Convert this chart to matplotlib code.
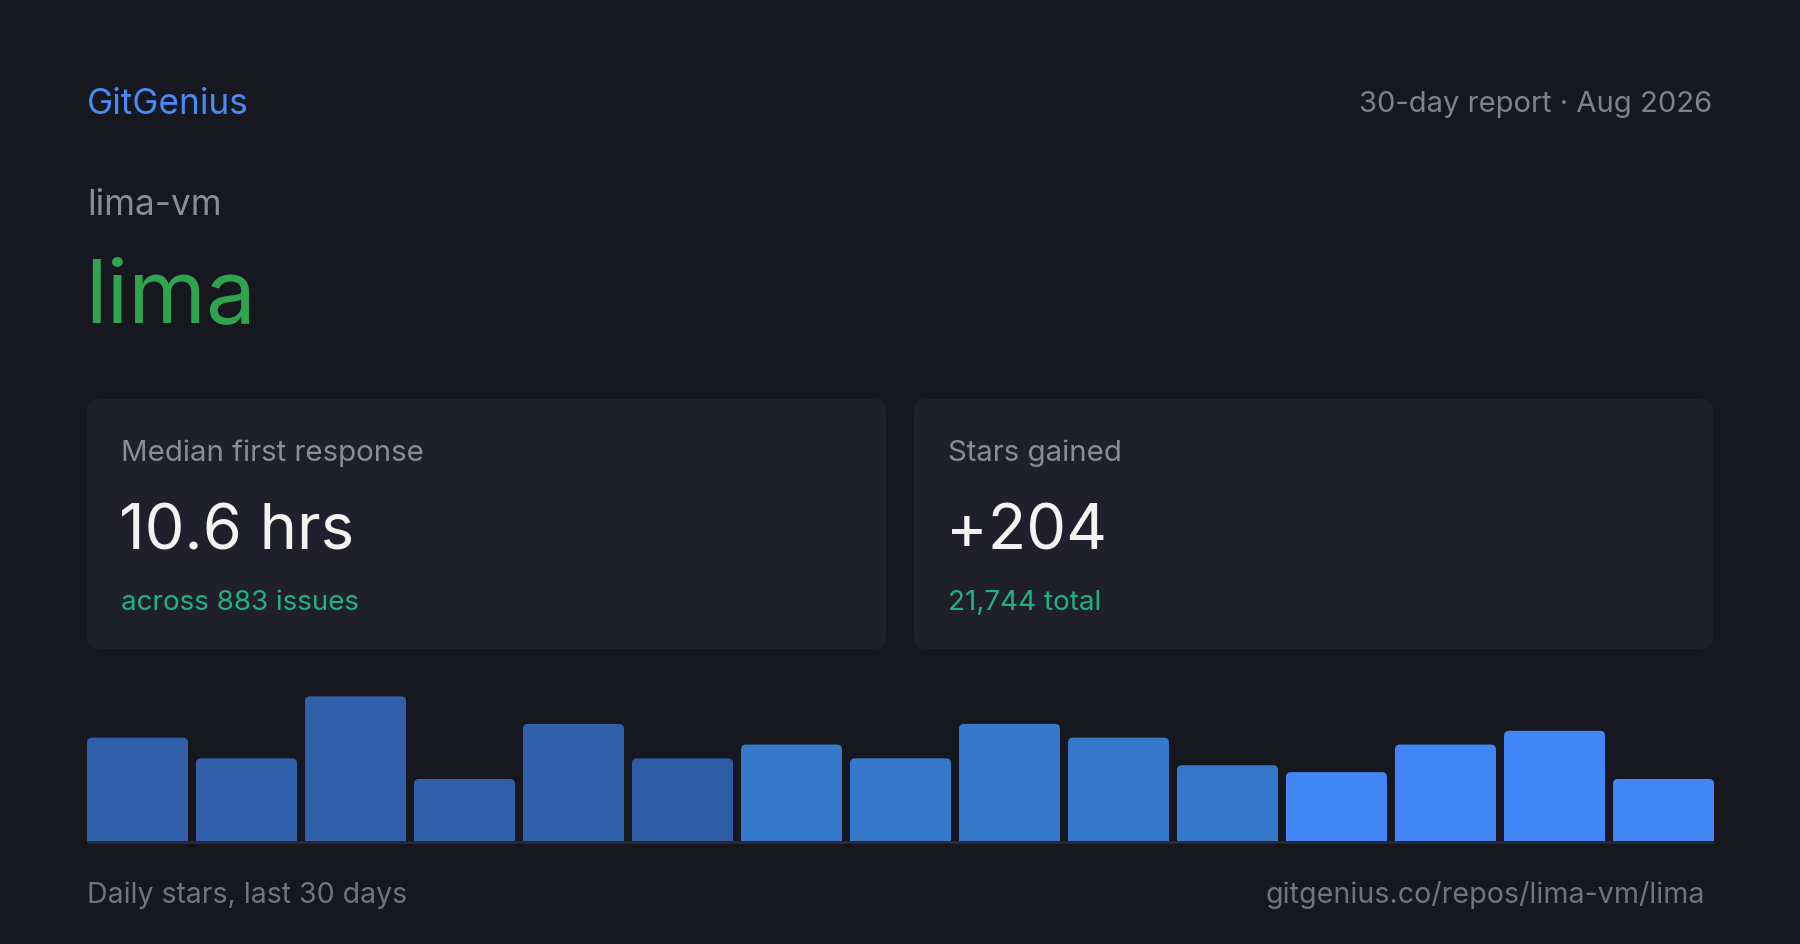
import matplotlib
matplotlib.use("Agg")
import matplotlib.pyplot as plt
from matplotlib.patches import FancyBboxPatch

plt.rcParams['font.family'] = ['Inter', 'DejaVu Sans']

# data
brand = "GitGenius"
report_label = "30-day report · Aug 2026"
owner = "lima-vm"
repo = "lima"
card_labels = ["Median first response", "Stars gained"]
card_values = ["10.6 hrs", "+204"]
card_subs = ["across 883 issues", "21,744 total"]
daily_stars = [15, 12, 21, 9, 17, 12, 14, 12, 17, 15, 11, 10, 14, 16, 9]
footer_left = "Daily stars, last 30 days"
footer_right = "gitgenius.co/repos/lima-vm/lima"

# styles
BG = '#16171f'
CARD = '#1f202b'
GRAY = '#8b8c96'
WHITE = '#f3f3ef'
SUBGREEN = '#1fb380'
bar_colors = ['#2f60a9'] * 5 + ['#2d5ca5'] + ['#3678c9'] * 5 + ['#4285f4'] * 4

W, H = 1800, 945
fig = plt.figure(figsize=(W / 100, H / 100), dpi=100, facecolor=BG)

# full-figure axes in pixel coordinates for the layout
bg = fig.add_axes([0, 0, 1, 1])
bg.set_xlim(0, W)
bg.set_ylim(H, 0)
bg.axis('off')
bg.set_facecolor(BG)

bg.text(87, 114, brand, color='#4a8af4', fontsize=25.3, va='baseline', ha='left')
bg.text(1712, 112, report_label, color='#7f818c', fontsize=21, va='baseline', ha='right')
bg.text(87, 215, owner, color=GRAY, fontsize=25.3, va='baseline', ha='left')
bg.text(85, 322, repo, color='#2ea44f', fontsize=64, va='baseline', ha='left')

# stat cards
card_x = [87, 914]
for i in range(2):
    x0 = card_x[i]
    bg.add_patch(FancyBboxPatch((x0, 400), 799, 250,
                                boxstyle="round,pad=0,rounding_size=13",
                                facecolor=CARD, edgecolor='none'))
    tx = x0 + 34
    bg.text(tx, 461, card_labels[i], color=GRAY, fontsize=21.2, va='baseline')
    bg.text(tx - 2, 550, card_values[i], color=WHITE, fontsize=45.5, va='baseline')
    bg.text(tx, 610, card_subs[i], color=SUBGREEN, fontsize=20, va='baseline')

# footer
bg.text(87, 903, footer_left, color='#71737f', fontsize=20.5, va='baseline', ha='left')
bg.text(1705, 903, footer_right, color='#71737f', fontsize=20.6, va='baseline', ha='right')

# bar chart
n = len(daily_stars)
pitch_px, bar_px = 109, 101
ax_w = (n - 1) * pitch_px + bar_px
ymax = max(daily_stars)
px_per_star = 6.89
ax_h = ymax * px_per_star
ax = fig.add_axes([87 / W, (H - 842) / H, ax_w / W, ax_h / H])
ax.set_facecolor('none')
bw = bar_px / pitch_px
ax.set_xlim(-bw / 2, n - 1 + bw / 2)
ax.set_ylim(0, ymax)
ax.axis('off')

rx = 5 / pitch_px
ry = 5 / px_per_star
for i, v in enumerate(daily_stars):
    p = FancyBboxPatch((i - bw / 2, -ry), bw, v + ry,
                       boxstyle=f"round,pad=0,rounding_size={rx}",
                       mutation_aspect=ry / rx,
                       facecolor=bar_colors[i], edgecolor='none', clip_on=True)
    ax.add_patch(p)
    p.set_clip_path(ax.patch)

# baseline
bg.plot([87, 87 + ax_w], [843, 843], color='#2a2b36', lw=2, solid_capstyle='butt')

fig.savefig('out.png', dpi=100, facecolor=BG)
